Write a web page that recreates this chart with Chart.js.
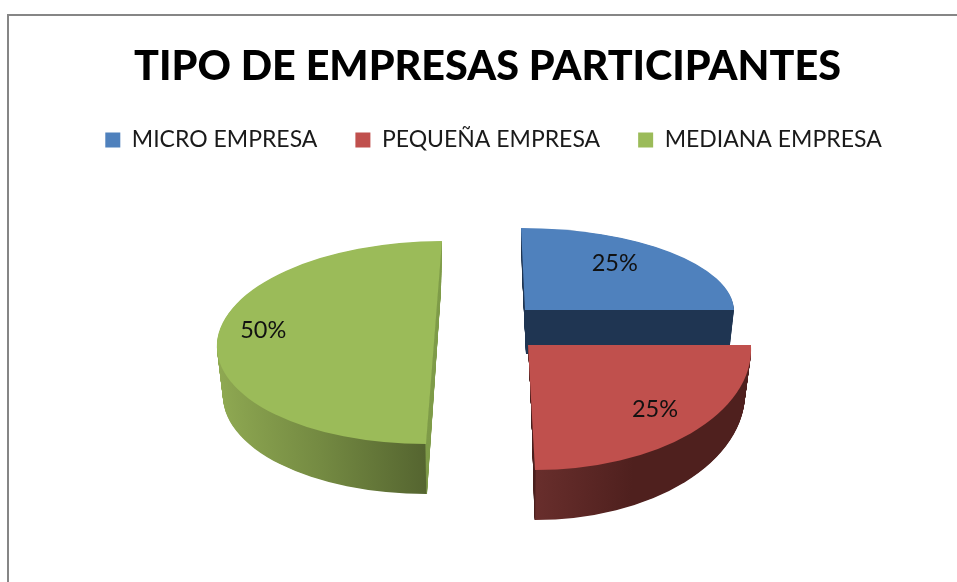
<!DOCTYPE html>
<html>
<head>
<meta charset="utf-8">
<title>Tipo de empresas participantes</title>
<script src="https://cdn.jsdelivr.net/npm/chart.js@4/dist/chart.umd.min.js"></script>
<style>
  html, body { margin: 0; padding: 0; background: #fff; overflow: hidden; }
  #frame { position: absolute; left: 7px; top: 14px; width: 960px; height: 580px; border: 2px solid #868686; }
  canvas { position: absolute; left: 0; top: 0; }
</style>
</head>
<body>
<div id="frame"></div>
<canvas id="pie" width="957" height="582"></canvas>
<script>
const categories = ['MICRO EMPRESA', 'PEQUEÑA EMPRESA', 'MEDIANA EMPRESA'];
const shares = [25, 25, 50];
const topColors = ['#4f81bd', '#c0504d', '#9bbb59'];

// gradient stops for the side walls, from the cut edge (x = centre) outwards
const wallStops = [
  [[0, '#1f3552'], [1, '#1f3552']],
  [[0, '#4a1f1d'], [0.006, '#682e2c'], [0.45, '#4f201e'], [1, '#4f201e']],
  [[0, '#7f9c49'], [0.006, '#556530'], [0.5, '#748a42'], [1, '#8fa952']]
];

// tilted view of each exploded slice: top face and bottom face
// c = centre on the page, u = radius along x, v = radius along y
const sliceViews = [
  { top: { c: [525, 310], u: 209, v: [4, 82] }, bottom: { c: [526, 354], u: 203, v: [4, 82] } },
  { top: { c: [528, 345], u: 223, v: [7, 125] }, bottom: { c: [531, 391], u: 214, v: [3.5, 129] } },
  { top: { c: [434, 342.5], u: 217, v: [-8, 101.5] }, bottom: { c: [434, 392], u: 211, v: [-7, 102] } }
];
const labelNudges = [[-19, -3], [5, -2], [-8, -12]];

function faceMatrix(face, arc) {
  const R = arc.outerRadius;
  const a = face.u / R, c = face.v[0] / R, d = face.v[1] / R;
  return { a, c, d, e: face.c[0] - a * arc.x - c * arc.y, f: face.c[1] - d * arc.y };
}

function mix(m1, m2, t) {
  const out = {};
  for (const k in m1) out[k] = m1[k] + (m2[k] - m1[k]) * t;
  return out;
}

function drawArcWith(ctx, arc, m, fill) {
  const opts = arc.options;
  ctx.save();
  ctx.transform(m.a, 0, m.c, m.d, m.e, m.f);
  arc.options = Object.assign({}, opts, { backgroundColor: fill });
  arc.draw(ctx);
  arc.options = opts;
  ctx.restore();
}

const tiltedPie = {
  id: 'tiltedPie',
  afterLayout(chart) {
    // the legend sits a little to the right of the title
    chart.legend.left += 6;
    chart.legend.right += 6;
    chart.legend.top -= 1;
    chart.legend.bottom -= 1;
  },
  beforeDatasetDraw(chart, args) {
    const ctx = chart.ctx;
    args.meta.data.forEach((arc, i) => {
      const view = sliceViews[i];
      const top = faceMatrix(view.top, arc);
      const bottom = faceMatrix(view.bottom, arc);
      const dir = arc.startAngle + arc.circumference / 2 > Math.PI / 2 ? -1 : 1;
      const grad = ctx.createLinearGradient(arc.x, 0, arc.x + dir * arc.outerRadius, 0);
      wallStops[i].forEach(s => grad.addColorStop(s[0], s[1]));
      const steps = 70;
      for (let s = 0; s < steps; s++) {
        drawArcWith(ctx, arc, mix(bottom, top, s / steps), grad);
      }
      drawArcWith(ctx, arc, top, topColors[i]);
    });
    return false;
  },
  afterDatasetsDraw(chart) {
    const ctx = chart.ctx;
    const meta = chart.getDatasetMeta(0);
    ctx.save();
    ctx.font = '23.5px Lato';
    ctx.fillStyle = '#111';
    ctx.textAlign = 'center';
    ctx.textBaseline = 'middle';
    meta.data.forEach((arc, i) => {
      const m = faceMatrix(sliceViews[i].top, arc);
      const mid = (arc.startAngle + arc.endAngle) / 2;
      const px = arc.x + Math.cos(mid) * arc.outerRadius * 0.75;
      const py = arc.y + Math.sin(mid) * arc.outerRadius * 0.75;
      const x = m.a * px + m.c * py + m.e + labelNudges[i][0];
      const y = m.d * py + m.f + labelNudges[i][1];
      ctx.fillText(shares[i] + '%', x, y);
    });
    ctx.restore();
  }
};

new Chart(document.getElementById('pie'), {
  type: 'pie',
  data: {
    labels: categories,
    datasets: [{ data: shares, backgroundColor: topColors, borderWidth: 0 }]
  },
  options: {
    responsive: false,
    animation: false,
    layout: { padding: { left: 18 } },
    plugins: {
      title: {
        display: true,
        text: 'TIPO DE EMPRESAS PARTICIPANTES',
        color: '#000',
        font: { family: 'Lato', size: 41.3, weight: '900' },
        padding: { top: 42, bottom: 0 }
      },
      legend: {
        position: 'top',
        labels: {
          color: '#1a1a1a',
          font: { family: 'Lato', size: 23 },
          boxWidth: 15,
          boxHeight: 15,
          padding: 38
        }
      },
      tooltip: { enabled: false }
    }
  },
  plugins: [tiltedPie]
});
</script>
</body>
</html>
